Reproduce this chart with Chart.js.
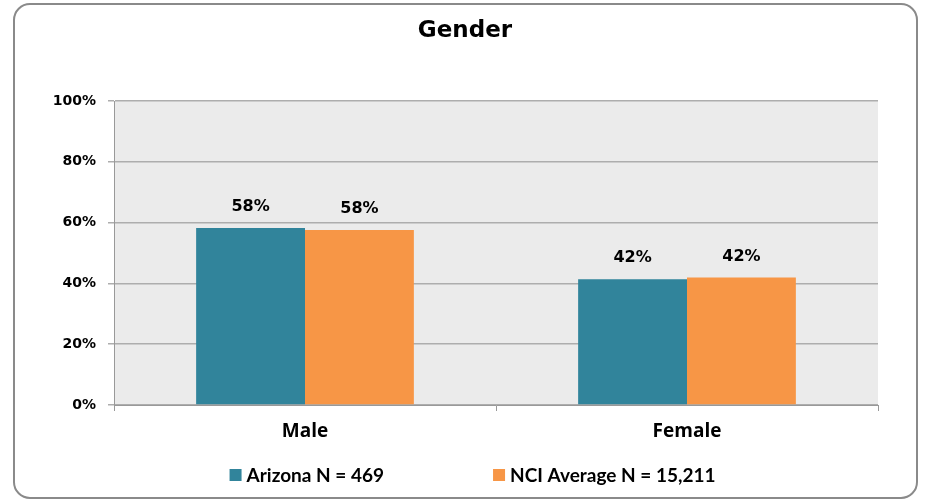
<!DOCTYPE html>
<html><head><meta charset="utf-8">
<script src="https://cdn.jsdelivr.net/npm/chart.js@4/dist/chart.umd.min.js"></script>
<style>
html,body{margin:0;padding:0;background:#fff;}
#wrap{position:relative;width:926px;height:502px;}
</style></head>
<body><div id="wrap"><canvas id="c" width="926" height="502"></canvas></div>
<script>
const chartTitle = 'Gender';
const categories = ['Male', 'Female'];
const seriesNames = ['Arizona N = 469', 'NCI Average N = 15,211'];
const arizonaValues = [58.2, 41.4];
const nciValues = [57.6, 41.9];
const valueLabels = [['58%', '42%'], ['58%', '42%']];
const yTicks = [0, 20, 40, 60, 80, 100];
const colors = ['#31849B', '#F79646'];

const decorPlugin = {
  id: 'decor',
  beforeDraw(chart) {
    const ctx = chart.ctx;
    ctx.save();
    ctx.strokeStyle = '#8a8a8a';
    ctx.lineWidth = 2;
    ctx.beginPath();
    ctx.roundRect(14, 4, 903, 494, 16);
    ctx.stroke();
    const a = chart.chartArea;
    ctx.fillStyle = '#EBEBEB';
    ctx.fillRect(a.left, a.top, a.right - a.left, a.bottom - a.top);
    ctx.restore();
  },
  afterDraw(chart) {
    const ctx = chart.ctx;
    ctx.save();
    ctx.fillStyle = '#000';
    ctx.font = 'bold 23px "DejaVu Sans"';
    ctx.textAlign = 'center';
    ctx.textBaseline = 'middle';
    ctx.fillText(chartTitle, 465, 31);
    ctx.font = 'bold 16px "DejaVu Sans"';
    chart.data.datasets.forEach((ds, i) => {
      const meta = chart.getDatasetMeta(i);
      meta.data.forEach((bar, j) => {
        ctx.fillText(valueLabels[i][j], bar.x, bar.y - 21);
      });
    });
    ctx.font = 'bold 19px Lato';
    ctx.textAlign = 'left';
    const items = chart.data.datasets.map(ds => ({text: ds.label, color: ds.backgroundColor}));
    const box = 12, gap = 5, spacing = 109;
    const widths = items.map(it => box + gap + ctx.measureText(it.text).width);
    const total = widths.reduce((s, w) => s + w, 0) + spacing * (items.length - 1);
    let x = 472.5 - total / 2;
    const y = 475;
    items.forEach((it, k) => {
      ctx.fillStyle = it.color;
      ctx.fillRect(x, y - box / 2, box, box);
      ctx.fillStyle = '#000';
      ctx.fillText(it.text, x + box + gap, y + 1);
      x += widths[k] + spacing;
    });
    ctx.restore();
  }
};

new Chart(document.getElementById('c'), {
  type: 'bar',
  data: {
    labels: categories,
    datasets: [
      {label: seriesNames[0], data: arizonaValues, backgroundColor: colors[0], borderWidth: 0},
      {label: seriesNames[1], data: nciValues, backgroundColor: colors[1], borderWidth: 0}
    ]
  },
  options: {
    responsive: false,
    animation: false,
    devicePixelRatio: 1,
    layout: {padding: {top: 101, right: 48, bottom: 0, left: 0}},
    categoryPercentage: 0.57,
    barPercentage: 1.0,
    plugins: {legend: {display: false}, title: {display: false}, tooltip: {enabled: false}},
    scales: {
      x: {
        afterFit(s) { s.height = 97; },
        grid: {display: true, drawOnChartArea: false, offset: true, color: '#999', lineWidth: 1, tickLength: 6},
        border: {color: '#999', width: 1},
        ticks: {color: '#000', font: {family: 'Open Sans', weight: 'bold', size: 19}, padding: 9}
      },
      y: {
        min: 0, max: 100,
        afterFit(s) { s.width = 114; },
        afterBuildTicks(s) { s.ticks = yTicks.map(v => ({value: v})); },
        grid: {color: '#ADADAD', lineWidth: 1.5, tickLength: 6},
        border: {color: '#999', width: 1},
        ticks: {color: '#000', padding: 12, font: {family: 'DejaVu Sans', weight: 'bold', size: 14},
                callback: v => v + '%'}
      }
    }
  },
  plugins: [decorPlugin]
});
</script></body></html>
